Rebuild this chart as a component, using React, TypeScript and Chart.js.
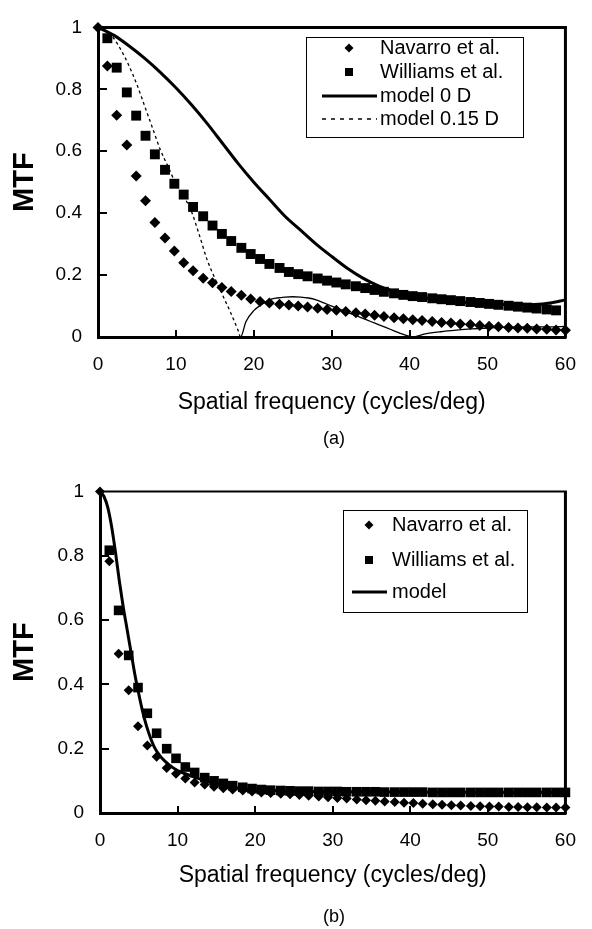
import React, { useEffect, useRef } from "react";
import { Chart, registerables } from "chart.js";

Chart.register(...registerables);

const FONT = "'Liberation Sans', Arial, Helvetica, sans-serif";

// ---------- data ----------
const navarroFreq = [0, 1.2, 2.4, 3.7, 4.9, 6.1, 7.3, 8.6, 9.8, 11.0, 12.2, 13.5, 14.7, 15.9, 17.1, 18.4, 19.6, 20.8, 22.0, 23.3, 24.5, 25.7, 26.9, 28.2, 29.4, 30.6, 31.8, 33.1, 34.3, 35.5, 36.7, 38.0, 39.2, 40.4, 41.6, 42.9, 44.1, 45.3, 46.5, 47.8, 49.0, 50.2, 51.4, 52.7, 53.9, 55.1, 56.3, 57.6, 58.8, 60.0];

const navarroA = [1, 0.875, 0.716, 0.62, 0.52, 0.44, 0.37, 0.32, 0.278, 0.24, 0.214, 0.19, 0.175, 0.16, 0.147, 0.135, 0.123, 0.115, 0.11, 0.106, 0.103, 0.1, 0.097, 0.093, 0.089, 0.086, 0.082, 0.078, 0.074, 0.07, 0.066, 0.062, 0.059, 0.056, 0.053, 0.05, 0.047, 0.045, 0.042, 0.04, 0.037, 0.035, 0.033, 0.031, 0.029, 0.028, 0.026, 0.025, 0.023, 0.022];

const williamsFreqA = [1.2, 2.4, 3.7, 4.9, 6.1, 7.3, 8.6, 9.8, 11.0, 12.2, 13.5, 14.7, 15.9, 17.1, 18.4, 19.6, 20.8, 22.0, 23.3, 24.5, 25.7, 26.9, 28.2, 29.4, 30.6, 31.8, 33.1, 34.3, 35.5, 36.7, 38.0, 39.2, 40.4, 41.6, 42.9, 44.1, 45.3, 46.5, 47.8, 49.0, 50.2, 51.4, 52.7, 53.9, 55.1, 56.3, 57.6, 58.8];

const williamsA = [0.965, 0.87, 0.79, 0.715, 0.65, 0.59, 0.54, 0.495, 0.46, 0.42, 0.39, 0.36, 0.333, 0.31, 0.288, 0.268, 0.252, 0.236, 0.223, 0.21, 0.203, 0.196, 0.189, 0.182, 0.176, 0.17, 0.164, 0.158, 0.152, 0.146, 0.141, 0.136, 0.132, 0.129, 0.125, 0.122, 0.119, 0.116, 0.113, 0.11, 0.107, 0.104, 0.101, 0.098, 0.095, 0.092, 0.089, 0.086];

const model0Freq = [0, 2, 4, 6, 8, 10, 12, 14, 16, 18, 20, 22, 24, 26, 28, 30, 32, 34, 36, 38, 40, 42, 44, 46, 48, 50, 52, 54, 56, 58, 60];
const model0 = [1, 0.975, 0.94, 0.9, 0.855, 0.805, 0.75, 0.69, 0.625, 0.56, 0.5, 0.445, 0.39, 0.345, 0.3, 0.26, 0.222, 0.19, 0.165, 0.147, 0.135, 0.127, 0.12, 0.115, 0.111, 0.108, 0.105, 0.104, 0.105, 0.11, 0.12];

const model015Freq = [0, 1, 2, 3, 4, 5, 6, 7, 8, 9, 10, 11, 12, 13, 14, 15, 16, 17, 18, 18.3, 19, 20, 21, 22, 23, 24, 25, 26, 27, 28, 29, 30, 31, 32, 33, 34, 35, 36, 37, 38, 39, 40, 40.3, 42, 44, 46, 48, 50, 52, 54, 56, 58, 60];
const model015 = [1, 0.99, 0.965, 0.925, 0.875, 0.815, 0.745, 0.675, 0.605, 0.55, 0.495, 0.455, 0.405, 0.33, 0.25, 0.19, 0.135, 0.08, 0.02, 0, 0.05, 0.085, 0.105, 0.12, 0.126, 0.129, 0.13, 0.129, 0.126, 0.12, 0.11, 0.1, 0.09, 0.08, 0.07, 0.06, 0.05, 0.04, 0.03, 0.02, 0.01, 0.002, 0, 0.01, 0.017, 0.022, 0.026, 0.029, 0.031, 0.032, 0.033, 0.033, 0.034];
const model015DashEnd = 18.3;

const navarroB = [1, 0.783, 0.495, 0.382, 0.27, 0.21, 0.175, 0.14, 0.122, 0.107, 0.095, 0.089, 0.082, 0.077, 0.073, 0.07, 0.067, 0.064, 0.062, 0.06, 0.058, 0.056, 0.054, 0.051, 0.049, 0.047, 0.045, 0.042, 0.04, 0.038, 0.036, 0.034, 0.032, 0.031, 0.029, 0.027, 0.026, 0.024, 0.023, 0.022, 0.021, 0.02, 0.02, 0.019, 0.019, 0.018, 0.018, 0.017, 0.017, 0.017];

const williamsFreqB = [1.2, 2.4, 3.7, 4.9, 6.1, 7.3, 8.6, 9.8, 11.0, 12.2, 13.5, 14.7, 15.9, 17.1, 18.4, 19.6, 20.8, 22.0, 23.3, 24.5, 25.7, 26.9, 28.2, 29.4, 30.6, 31.8, 33.1, 34.3, 35.5, 36.7, 38.0, 39.2, 40.4, 41.6, 42.9, 44.1, 45.3, 46.5, 47.8, 49.0, 50.2, 51.4, 52.7, 53.9, 55.1, 56.3, 57.6, 58.8, 60.0];
const williamsB = [0.817, 0.63, 0.49, 0.39, 0.31, 0.248, 0.2, 0.17, 0.143, 0.126, 0.11, 0.1, 0.092, 0.085, 0.08, 0.076, 0.073, 0.071, 0.07, 0.069, 0.068, 0.068, 0.067, 0.067, 0.067, 0.066, 0.066, 0.066, 0.066, 0.065, 0.065, 0.065, 0.065, 0.065, 0.064, 0.064, 0.064, 0.064, 0.064, 0.064, 0.064, 0.064, 0.064, 0.064, 0.064, 0.064, 0.064, 0.064, 0.064];

const modelBFreq = [0, 0.5, 1, 1.5, 2, 2.5, 3, 3.5, 4, 4.5, 5, 5.5, 6, 7, 8, 9, 10, 11, 12, 14, 16, 18, 20, 25, 30, 40, 50, 60];
const modelB = [1, 0.985, 0.95, 0.89, 0.81, 0.72, 0.64, 0.57, 0.5, 0.43, 0.37, 0.315, 0.27, 0.205, 0.17, 0.148, 0.132, 0.122, 0.113, 0.097, 0.085, 0.077, 0.072, 0.068, 0.066, 0.065, 0.064, 0.064];

const xTitle = "Spatial frequency (cycles/deg)";
const yTitle = "MTF";
const labelsA = ["Navarro et al.", "Williams et al.", "model 0 D", "model 0.15 D"];
const labelsB = ["Navarro et al.", "Williams et al.", "model"];

// ---------- helpers ----------
const pts = (xs: number[], ys: number[]) => xs.map((x, i) => ({ x, y: ys[i] }));

function drawMarker(ctx: CanvasRenderingContext2D, kind: string, x: number, y: number, r: number) {
  ctx.beginPath();
  if (kind === "diamond") {
    ctx.moveTo(x, y - r);
    ctx.lineTo(x + r, y);
    ctx.lineTo(x, y + r);
    ctx.lineTo(x - r, y);
    ctx.closePath();
  } else {
    ctx.rect(x - r, y - r, 2 * r, 2 * r);
  }
  ctx.fillStyle = "#000";
  ctx.fill();
}

const framePlugin = {
  id: "frame",
  afterDraw(chart: any, _args: any, opts: any) {
    const { ctx, chartArea: a, scales } = chart;
    ctx.save();
    ctx.strokeStyle = "#000";
    ctx.lineCap = "butt";
    ctx.lineWidth = 2;
    scales.y.ticks.forEach((t: any) => {
      if (t.value <= 0 || t.value >= 1) return;
      const py = Math.round(scales.y.getPixelForValue(t.value));
      ctx.beginPath();
      ctx.moveTo(a.left, py);
      ctx.lineTo(a.left + 9, py);
      ctx.stroke();
    });
    scales.x.ticks.forEach((t: any) => {
      if (t.value <= 0 || t.value >= 60) return;
      const px = Math.round(scales.x.getPixelForValue(t.value));
      ctx.beginPath();
      ctx.moveTo(px, a.bottom);
      ctx.lineTo(px, a.bottom - 7);
      ctx.stroke();
    });
    ctx.lineWidth = opts.topWidth;
    ctx.beginPath();
    ctx.moveTo(a.left, a.top);
    ctx.lineTo(a.right + 1.5, a.top);
    ctx.stroke();
    ctx.lineWidth = opts.rightWidth;
    ctx.beginPath();
    ctx.moveTo(a.right, a.top);
    ctx.lineTo(a.right, a.bottom + 1.5);
    ctx.stroke();
    ctx.restore();
  },
};

const boxLegendPlugin = {
  id: "boxLegend",
  afterDraw(chart: any, _args: any, opts: any) {
    const { ctx } = chart;
    ctx.save();
    ctx.fillStyle = "#fff";
    ctx.fillRect(opts.x, opts.y, opts.w, opts.h);
    ctx.strokeStyle = "#000";
    ctx.lineWidth = 1;
    ctx.strokeRect(opts.x + 0.5, opts.y + 0.5, opts.w, opts.h);
    opts.items.forEach((it: any, i: number) => {
      const ds = chart.data.datasets[it.index];
      const cy = opts.rows[i];
      if (it.kind === "line") {
        ctx.strokeStyle = "#000";
        ctx.lineWidth = ds.borderWidth;
        ctx.setLineDash(it.dash || []);
        ctx.beginPath();
        ctx.moveTo(opts.lineX1, cy);
        ctx.lineTo(opts.lineX2, cy);
        ctx.stroke();
        ctx.setLineDash([]);
      } else {
        drawMarker(ctx, it.kind, opts.markerX, cy, it.r);
      }
      ctx.fillStyle = "#000";
      ctx.font = `${opts.fontSize}px ${FONT}`;
      ctx.textAlign = "left";
      ctx.textBaseline = "middle";
      ctx.fillText(ds.label, opts.textX, cy);
    });
    ctx.restore();
  },
};

function scaleOptions(xAxisHeight: number, yAxisWidth: number, xTitlePadBottom: number) {
  const tickFont = { family: FONT, size: 19 };
  return {
    x: {
      type: "linear",
      min: 0,
      max: 60,
      ticks: { stepSize: 10, padding: 16, color: "#000", font: tickFont, maxRotation: 0, autoSkip: false },
      grid: { display: true, drawOnChartArea: false, drawTicks: false, color: "rgba(0,0,0,0)" },
      border: { display: true, width: 3, color: "#000" },
      title: {
        display: true,
        text: xTitle,
        color: "#000",
        font: { family: FONT, size: 23 },
        padding: { top: 0, bottom: xTitlePadBottom },
      },
      afterFit: (s: any) => {
        s.height = xAxisHeight;
      },
    },
    y: {
      type: "linear",
      min: 0,
      max: 1,
      ticks: {
        stepSize: 0.2,
        padding: 16,
        color: "#000",
        font: tickFont,
        autoSkip: false,
        callback: (v: number) => String(Number(v.toFixed(1))),
      },
      grid: { display: true, drawOnChartArea: false, drawTicks: false, color: "rgba(0,0,0,0)" },
      border: { display: true, width: 3, color: "#000" },
      title: {
        display: true,
        text: yTitle,
        color: "#000",
        font: { family: FONT, size: 29, weight: "bold" },
        padding: { top: 8, bottom: 0 },
      },
      afterFit: (s: any) => {
        s.width = yAxisWidth;
      },
    },
  };
}

function configA(): any {
  return {
    type: "scatter",
    data: {
      datasets: [
        {
          label: labelsA[0],
          data: pts(navarroFreq, navarroA),
          pointStyle: "rectRot",
          pointRadius: 5.5,
          pointBackgroundColor: "#000",
          pointBorderWidth: 0,
          clip: false,
        },
        {
          label: labelsA[1],
          data: pts(williamsFreqA, williamsA),
          pointStyle: "rect",
          pointRadius: 7,
          pointBackgroundColor: "#000",
          pointBorderWidth: 0,
          clip: false,
        },
        {
          label: labelsA[2],
          data: pts(model0Freq, model0),
          showLine: true,
          borderColor: "#000",
          borderWidth: 3,
          pointRadius: 0,
          cubicInterpolationMode: "monotone",
        },
        {
          label: labelsA[3],
          data: pts(model015Freq, model015),
          showLine: true,
          borderColor: "#000",
          borderWidth: 1.3,
          pointRadius: 0,
          cubicInterpolationMode: "monotone",
          segment: {
            borderDash: (c: any) => (c.p1.parsed.x <= model015DashEnd ? [3, 3] : []),
          },
        },
      ],
    },
    options: {
      animation: false,
      responsive: false,
      maintainAspectRatio: false,
      devicePixelRatio: 1,
      layout: { padding: { top: 24, right: 19, left: 0, bottom: 0 } },
      events: [],
      plugins: {
        legend: { display: false },
        tooltip: { enabled: false },
        frame: { topWidth: 3, rightWidth: 3 },
        boxLegend: {
          x: 306,
          y: 37,
          w: 217,
          h: 100,
          markerX: 349,
          lineX1: 322,
          lineX2: 377,
          textX: 380,
          fontSize: 20,
          rows: [48, 72, 96, 119],
          items: [
            { index: 0, kind: "diamond", r: 4.5 },
            { index: 1, kind: "square", r: 4 },
            { index: 2, kind: "line" },
            { index: 3, kind: "line", dash: [4, 5] },
          ],
        },
      },
      scales: scaleOptions(127, 98, 48),
    },
    plugins: [framePlugin, boxLegendPlugin],
  };
}

function configB(): any {
  return {
    type: "scatter",
    data: {
      datasets: [
        {
          label: labelsB[0],
          data: pts(navarroFreq, navarroB),
          pointStyle: "rectRot",
          pointRadius: 5,
          pointBackgroundColor: "#000",
          pointBorderWidth: 0,
          clip: false,
        },
        {
          label: labelsB[1],
          data: pts(williamsFreqB, williamsB),
          pointStyle: "rect",
          pointRadius: 6.8,
          pointBackgroundColor: "#000",
          pointBorderWidth: 0,
          clip: false,
        },
        {
          label: labelsB[2],
          data: pts(modelBFreq, modelB),
          showLine: true,
          borderColor: "#000",
          borderWidth: 3,
          pointRadius: 0,
          cubicInterpolationMode: "monotone",
        },
      ],
    },
    options: {
      animation: false,
      responsive: false,
      maintainAspectRatio: false,
      devicePixelRatio: 1,
      layout: { padding: { top: 22, right: 13, left: 0, bottom: 0 } },
      events: [],
      plugins: {
        legend: { display: false },
        tooltip: { enabled: false },
        frame: { topWidth: 2, rightWidth: 3 },
        boxLegend: {
          x: 343,
          y: 46,
          w: 184,
          h: 102,
          markerX: 369,
          lineX1: 352,
          lineX2: 387,
          textX: 392,
          fontSize: 20,
          rows: [61, 96, 128],
          items: [
            { index: 0, kind: "diamond", r: 4.5 },
            { index: 1, kind: "square", r: 4 },
            { index: 2, kind: "line" },
          ],
        },
      },
      scales: scaleOptions(116, 100, 40),
    },
    plugins: [framePlugin, boxLegendPlugin],
  };
}

function ChartCanvas({ make, height, top }: { make: () => any; height: number; top: number }) {
  const ref = useRef<HTMLCanvasElement | null>(null);
  useEffect(() => {
    if (!ref.current) return;
    const chart = new Chart(ref.current, make());
    return () => chart.destroy();
  }, []);
  return (
    <canvas
      ref={ref}
      width={592}
      height={height}
      style={{ position: "absolute", left: 0, top, width: 592, height, display: "block" }}
    />
  );
}

const captionStyle = (top: number): React.CSSProperties => ({
  position: "absolute",
  left: 284,
  width: 100,
  top,
  textAlign: "center",
  fontFamily: FONT,
  fontSize: 18,
  lineHeight: "20px",
  color: "#000",
});

export default function App() {
  return (
    <div style={{ position: "absolute", left: 0, top: 0, width: 592, height: 929, background: "#fff", overflow: "hidden" }}>
      <ChartCanvas make={configA} height={464} top={0} />
      <ChartCanvas make={configB} height={465} top={464} />
      <div style={captionStyle(428)}>(a)</div>
      <div style={captionStyle(906)}>(b)</div>
    </div>
  );
}
